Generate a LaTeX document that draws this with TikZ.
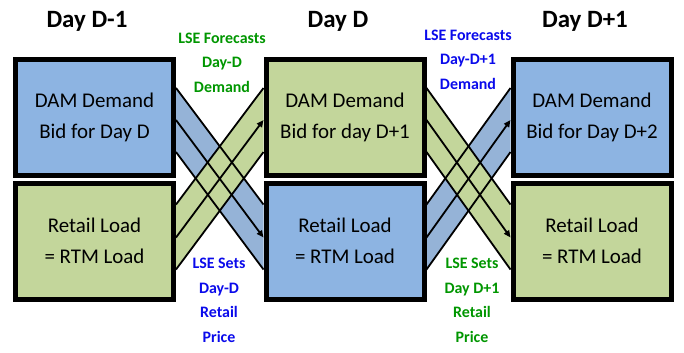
\documentclass[tikz,border=0pt]{standalone}
\usepackage{fontspec}
\setmainfont{Carlito}
\usetikzlibrary{calc,backgrounds,arrows.meta}
\definecolor{boxblue}{RGB}{141,180,226}
\definecolor{boxgreen}{RGB}{195,214,155}
\definecolor{bandblue}{RGB}{149,179,215}
\definecolor{bandgreen}{RGB}{195,214,155}
\definecolor{lblgreen}{RGB}{0,150,0}
\definecolor{lblblue}{RGB}{10,10,235}
\begin{document}
\begin{tikzpicture}[x=1bp,y=-1bp,
  box/.style={draw=black, line width=5bp, minimum width=158bp, minimum height=116bp,
    inner sep=0pt, align=center, font=\fontsize{21}{31.5}\selectfont},
  head/.style={font=\bfseries\fontsize{25}{30}\selectfont, anchor=base},
  lbl/.style={font=\bfseries\fontsize{16}{24.5}\selectfont, align=center, anchor=base},
  bandline/.style={line width=1.8bp},
  arr/.style={line width=1.8bp, -{Triangle[length=7bp,width=6bp]}}
]
\useasboundingbox (0,0) rectangle (684,352);

\node[box, fill=boxblue]  (a1) at (94.5,117.5) {DAM Demand\\Bid for Day D};
\node[box, fill=boxgreen] (b1) at (94.5,241)   {Retail Load\\= RTM Load};
\node[box, fill=boxgreen] (a2) at (345,117.5)  {DAM Demand\\Bid for day D+1};
\node[box, fill=boxblue]  (b2) at (345,241)    {Retail Load\\= RTM Load};
\node[box, fill=boxblue]  (a3) at (592,117.5)  {DAM Demand\\Bid for Day D+2};
\node[box, fill=boxgreen] (b3) at (592,241)    {Retail Load\\= RTM Load};

\node[head] (h1) at (87,27)  {Day D-1};
\node[head] (h2) at (338,27) {Day D};
\node[head] (h3) at (585,27) {Day D+1};

% anchor=base is the baseline of the last line
\node[lbl, text=lblgreen] (l1) at (222,92)  {LSE Forecasts\\Day-D\\Demand};
\node[lbl, text=lblblue]  (l2) at (468,89)  {LSE Forecasts\\Day-D+1\\Demand};
\node[lbl, text=lblblue]  (l3) at (219,342) {LSE Sets\\Day-D\\Retail\\Price};
\node[lbl, text=lblgreen] (l4) at (472,342) {LSE Sets\\Day D+1\\Retail\\Price};

\begin{pgfonlayer}{background}
  % crossing 1: blue a1 -> b2, green b1 -> a2
  \fill[bandblue] ($(a1.north east)+(0,31)$) -- ($(b2.north west)+(0,24)$)
     -- ($(b2.north west)+(0,89)$) -- ($(a1.north east)+(0,95)$) -- cycle;
  \fill[bandgreen] ($(b1.north east)+(0,24)$) -- ($(a2.north west)+(0,31)$)
     -- ($(a2.north west)+(0,95)$) -- ($(b1.north east)+(0,89)$) -- cycle;
  % crossing 2: green a2 -> b3, blue b2 -> a3
  \fill[bandblue] ($(b2.north east)+(0,24)$) -- ($(a3.north west)+(0,31)$)
     -- ($(a3.north west)+(0,95)$) -- ($(b2.north east)+(0,89)$) -- cycle;
  \fill[bandgreen] ($(a2.north east)+(0,31)$) -- ($(b3.north west)+(0,24)$)
     -- ($(b3.north west)+(0,89)$) -- ($(a2.north east)+(0,95)$) -- cycle;

  % edges
  \draw[bandline] ($(a1.north east)+(0,31)$) -- ($(b2.north west)+(0,24)$);
  \draw[bandline] ($(a1.north east)+(0,95)$) -- ($(b2.north west)+(0,89)$);
  \draw[bandline] ($(b1.north east)+(0,24)$) -- ($(a2.north west)+(0,31)$);
  \draw[bandline] ($(b1.north east)+(0,89)$) -- ($(a2.north west)+(0,95)$);
  \draw[bandline] ($(b2.north east)+(0,24)$) -- ($(a3.north west)+(0,31)$);
  \draw[bandline] ($(b2.north east)+(0,89)$) -- ($(a3.north west)+(0,95)$);
  \draw[bandline] ($(a2.north east)+(0,31)$) -- ($(b3.north west)+(0,24)$);
  \draw[bandline] ($(a2.north east)+(0,95)$) -- ($(b3.north west)+(0,89)$);

  % arrows
  \draw[arr] ($(a1.north east)+(0,63)$) -- ($(b2.north west)+(0,57)$);
  \draw[arr] ($(b1.north east)+(0,57)$) -- ($(a2.north west)+(0,63)$);
  \draw[arr] ($(b2.north east)+(0,57)$) -- ($(a3.north west)+(0,63)$);
  \draw[arr] ($(a2.north east)+(0,63)$) -- ($(b3.north west)+(0,57)$);
\end{pgfonlayer}
\end{tikzpicture}
\end{document}
